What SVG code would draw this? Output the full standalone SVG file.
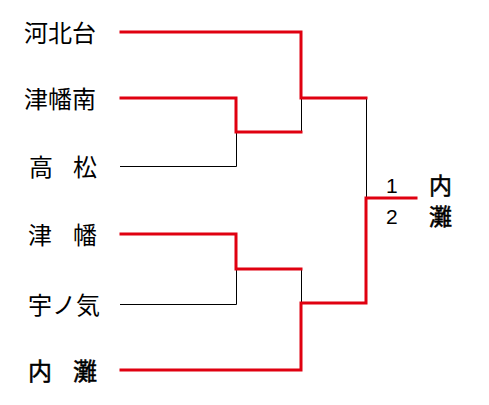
<svg xmlns="http://www.w3.org/2000/svg" width="489" height="405" viewBox="0 0 489 405">
<style>
.t{font-family:"Noto Sans CJK JP","Noto Sans CJK SC",sans-serif;font-size:24px;fill:#000}
.b{stroke:#000;stroke-width:0.5}
.n{font-family:"Liberation Sans",Arial,sans-serif;font-size:21px;fill:#000}
.w{fill:none;stroke:#e00010;stroke-width:3;stroke-linecap:square}
.l{fill:none;stroke:#000;stroke-width:1}
</style>
<rect width="489" height="405" fill="#fff"/>
<g id="connectors">
<path class="l" d="M120,166.5H236.5V132M301.5,98V132M366.5,98V198"/>
<path class="l" d="M120,304.5H236.5V269M301.5,269V303"/>
<path class="w" d="M121,32H301V98H366M121,98H236V132H301"/>
<path class="w" d="M121,234H236V269H301M121,370H301V303H366V198H416"/>
</g>
<g id="n1"><text class="t" x="24" y="42">河北台</text></g>
<g id="n2"><text class="t" x="24" y="108">津幡南</text></g>
<g id="n3"><text class="t" x="29 73" y="176">高松</text></g>
<g id="n4"><text class="t" x="28 73" y="244">津幡</text></g>
<g id="n5"><text class="t" x="28" y="314">宇ノ気</text></g>
<g id="n6"><text class="t b" x="28 73" y="380">内灘</text></g>
<g id="winner">
<text class="n" x="386" y="193">1</text>
<text class="n" x="386" y="224">2</text>
<text class="t b" style="font-size:23px" x="429" y="194">内</text>
<text class="t b" style="font-size:23px" x="429" y="225">灘</text>
</g>
</svg>
